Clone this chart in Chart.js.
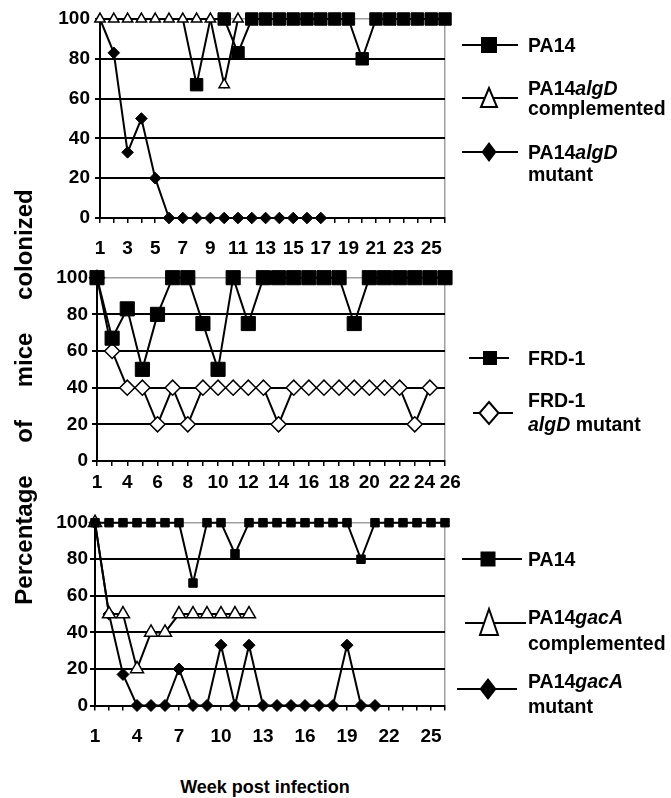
<!DOCTYPE html>
<html>
<head>
<meta charset="utf-8">
<script src="https://cdn.jsdelivr.net/npm/chart.js@4.4.0/dist/chart.umd.min.js"></script>
<style>
  body { margin: 0; background: #fff; width: 671px; height: 798px; position: relative; overflow: hidden;
         font-family: 'Liberation Sans', Arial, sans-serif; font-weight: bold; color: #000; }
  canvas { position: absolute; left: 0; }
  .lg { position: absolute; left: 528px; font-size: 19.5px; white-space: nowrap; z-index: 2; }
  #sym { position: absolute; left: 0; top: 0; z-index: 2; }
  #ytitle { position: absolute; left: -226px; top: 382px; width: 500px; height: 30px; line-height: 30px;
            text-align: center; font-size: 24px; word-spacing: 26px; transform: rotate(-90deg); }
  #xtitle { position: absolute; left: 0; width: 530px; top: 776px; line-height: 22px; text-align: center; font-size: 18px; }
</style>
</head>
<body>
<canvas id="c1" width="470" height="262" style="top:0px"></canvas>
<canvas id="c2" width="470" height="234" style="top:262px"></canvas>
<canvas id="c3" width="470" height="250" style="top:496px"></canvas>

<svg id="sym" width="671" height="798" stroke="#000" stroke-width="2">
  <!-- top panel -->
  <line x1="462" y1="45" x2="518" y2="45"/>
  <rect x="481" y="37" width="16" height="16" fill="#000" stroke="none"/>
  <line x1="462" y1="98" x2="518" y2="98"/>
  <polygon points="489,88 481,107 497,107" fill="#fff"/>
  <line x1="462" y1="152" x2="518" y2="152"/>
  <polygon points="489,142 496.5,152 489,162 481.5,152" fill="#000" stroke="none"/>
  <!-- middle panel -->
  <line x1="469" y1="358" x2="509" y2="358"/>
  <rect x="483" y="351" width="14" height="14" fill="#000" stroke="none"/>
  <line x1="473" y1="413" x2="513" y2="413"/>
  <polygon points="489,402 498.5,413 489,424 479.5,413" fill="#fff"/>
  <!-- bottom panel -->
  <line x1="462" y1="559" x2="522" y2="559"/>
  <rect x="480.5" y="551.5" width="15" height="15" fill="#000" stroke="none"/>
  <line x1="465" y1="623" x2="526" y2="623"/>
  <polygon points="489,609 480,635 498,635" fill="#fff"/>
  <line x1="457" y1="689" x2="517" y2="689"/>
  <polygon points="488,678 496.5,689 488,700 479.5,689" fill="#000" stroke="none"/>
</svg>

<div class="lg" style="top:35px; line-height:20px">PA14</div>
<div class="lg" style="top:78px; line-height:20px">PA14<i>algD</i><br>complemented</div>
<div class="lg" style="top:141px; line-height:22px">PA14<i>algD</i><br>mutant</div>
<div class="lg" style="top:348px; line-height:20px">FRD-1</div>
<div class="lg" style="top:388px; line-height:24px">FRD-1<br><i>algD</i> mutant</div>
<div class="lg" style="top:549px; line-height:20px">PA14</div>
<div class="lg" style="top:604px; line-height:26px">PA14<i>gacA</i><br>complemented</div>
<div class="lg" style="top:669px; line-height:25px">PA14<i>gacA</i><br>mutant</div>

<div id="ytitle">Percentage of mice colonized</div>
<div id="xtitle">Week post infection</div>

<script>
// ---- data ----
// top panel: PA14 / algD
const weeksAlg = ['1','2','3','4','5','6','7','8','9','10','11','12','13','14','15','16','17','18','19','20','21','22','23','24','25','26'];
const algPA14 = [100,100,100,100,100,100,100,67,100,100,83,100,100,100,100,100,100,100,100,80,100,100,100,100,100,100];
const algComp = [100,100,100,100,100,100,100,100,100,67,100];
const algMut = [100,83,33,50,20,0,0,0,0,0,0,0,0,0,0,0,0];

// middle panel: FRD-1 (week 25 not sampled)
const weeksFrd = ['1','2','4','5','6','7','8','9','10','11','12','13','14','15','16','17','18','19','20','21','22','23','24','26'];
const frd1 = [100,67,83,50,80,100,100,75,50,100,75,100,100,100,100,100,100,75,100,100,100,100,100,100];
const frdMut = [100,60,40,40,20,40,20,40,40,40,40,40,20,40,40,40,40,40,40,40,40,20,40];

// bottom panel: PA14 / gacA
const weeksGac = ['1','2','3','4','5','6','7','8','9','10','11','12','13','14','15','16','17','18','19','20','21','22','23','24','25','26'];
const gacPA14 = [100,100,100,100,100,100,100,67,100,100,83,100,100,100,100,100,100,100,100,80,100,100,100,100,100,100];
const gacComp = [100,50,50,20,40,40,50,50,50,50,50,50];
const gacMut = [100,50,17,0,0,0,20,0,0,33,0,33,0,0,0,0,0,0,33,0,0];

const yTicks = [0, 20, 40, 60, 80, 100];

Chart.defaults.font.family = "'Liberation Sans', Arial, sans-serif";
Chart.defaults.font.weight = 'bold';
Chart.defaults.font.size = 19;
Chart.defaults.color = '#000';

const GRAY = '#a0a0a0';

function series(data, style, radius, fill) {
    return {
        data: data,
        borderColor: '#000',
        borderWidth: 2,
        tension: 0,
        fill: false,
        clip: false,
        pointStyle: style,
        pointRadius: radius,
        pointBackgroundColor: fill,
        pointBorderColor: '#000',
        pointBorderWidth: fill === '#fff' ? 1.5 : 1
    };
}

// hide a marker where the open symbol of another series sits on top of it
function hiddenUnder(vals, cover, r) {
    return ctx => (cover[ctx.dataIndex] === vals[ctx.dataIndex] ? 0 : r);
}

function panel(id, g, labels, datasets, showLabel) {
    const n = labels.length;
    const cv = document.getElementById(id);
    return new Chart(cv, {
        type: 'line',
        data: { labels: labels, datasets: datasets },
        options: {
            responsive: false,
            animation: false,
            devicePixelRatio: 1,
            layout: { padding: { top: g.plotTop - g.top, right: cv.width - g.plotRight, left: 0, bottom: 0 } },
            plugins: { legend: { display: false }, tooltip: { enabled: false } },
            scales: {
                x: {
                    type: 'category',
                    offset: false,
                    afterFit: s => { s.height = g.top + cv.height - g.plotBottom; },
                    border: { display: true, color: '#000', width: 2 },
                    grid: {
                        color: c => (c.index === n - 1 ? GRAY : 'rgba(0,0,0,0)'),
                        lineWidth: 1.5,
                        tickColor: '#000',
                        tickWidth: 1.5,
                        tickLength: 5
                    },
                    ticks: {
                        autoSkip: false,
                        maxRotation: 0,
                        padding: g.xPad,
                        callback: (v, i) => showLabel(i, n)
                    }
                },
                y: {
                    min: 0,
                    max: 100,
                    afterFit: s => { s.width = g.plotLeft; },
                    afterBuildTicks: s => { s.ticks = yTicks.map(v => ({ value: v })); },
                    border: { display: true, color: '#000', width: 2 },
                    grid: {
                        color: c => (c.tick && c.tick.value === 100 ? GRAY : '#000'),
                        lineWidth: c => (c.tick && c.tick.value === 100 ? 1.5 : 2),
                        tickColor: '#000',
                        tickLength: 5
                    },
                    ticks: { padding: g.yPad }
                }
            }
        }
    });
}

panel('c1',
    { top: 0, plotTop: 19, plotBottom: 218, plotLeft: 100, plotRight: 445, xPad: 14, yPad: 5 },
    weeksAlg,
    [
        series(algComp, 'triangle', 6, '#fff'),
        series(algPA14, 'rect', hiddenUnder(algPA14, algComp, 8.8), '#000'),
        series(algMut, 'rectRot', hiddenUnder(algMut, algComp, 5.8), '#000')
    ],
    i => (i % 2 === 0 ? weeksAlg[i] : '')
);

panel('c2',
    { top: 262, plotTop: 277.7, plotBottom: 461, plotLeft: 97, plotRight: 445, xPad: 5, yPad: 4 },
    weeksFrd,
    [
        series(frd1, 'rect', 10, '#000'),
        series(frdMut, 'rectRot', 7.5, '#fff')
    ],
    (i, n) => {
        if (i === n - 1) return '  ' + weeksFrd[i];
        if (i === n - 2) return weeksFrd[i] + '  ';
        return i % 2 === 0 ? weeksFrd[i] : '';
    }
);

panel('c3',
    { top: 496, plotTop: 522.7, plotBottom: 705.5, plotLeft: 95, plotRight: 445, xPad: 15, yPad: 2 },
    weeksGac,
    [
        series(gacPA14, 'rect', 6, '#000'),
        series(gacComp, 'triangle', 7.5, '#fff'),
        series(gacMut, 'rectRot', 6, '#000')
    ],
    i => (i % 3 === 0 ? weeksGac[i] : '')
);
</script>
</body>
</html>
